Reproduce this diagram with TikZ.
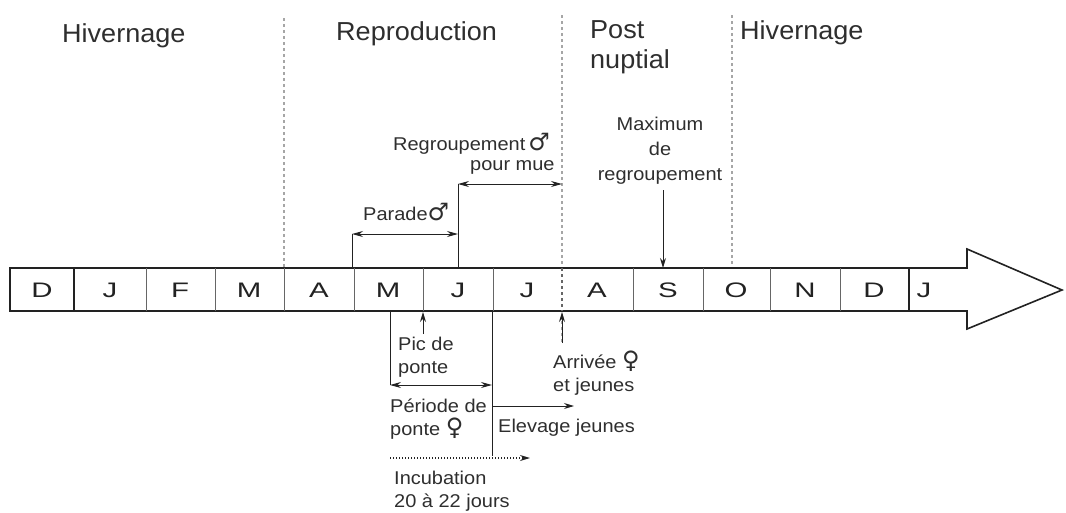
\documentclass[tikz,border=0pt]{standalone}
\usepackage{fontspec}
\setmainfont{Liberation Sans}
\newfontfamily\lblfont[FakeStretch=1.08]{Liberation Sans}
\newfontfamily\monthfont[FakeStretch=1.4]{Liberation Sans}
\newfontfamily\titlefont[FakeStretch=1.04]{Liberation Sans}
\newfontfamily\symfont{DejaVu Sans}
\usetikzlibrary{arrows.meta}
\definecolor{txt}{HTML}{2E2E2E}
\definecolor{ln}{HTML}{222222}
\tikzset{
  period/.style={font=\titlefont\fontsize{26}{30}\selectfont, text=txt, inner sep=0pt, anchor=west},
  month/.style={font=\monthfont\fontsize{21}{24}\selectfont, text=ln, inner sep=0pt},
  lbl/.style={font=\lblfont\fontsize{18.5}{23}\selectfont, text=txt, inner sep=0pt, anchor=west},
  clbl/.style={font=\lblfont\fontsize{18.5}{25}\selectfont, text=txt, inner sep=0pt, align=center},
  sepline/.style={draw=gray!70, line width=1.3pt, dash pattern=on 3pt off 3pt},
  divider/.style={draw=gray!80!black, line width=0.8pt},
  thickdiv/.style={draw=ln, line width=2pt},
  conn/.style={draw=ln, line width=1pt},
  dbl/.style={conn, {Stealth[length=11pt,width=6pt]}-{Stealth[length=11pt,width=6pt]}},
  sgl/.style={conn, -{Stealth[length=10pt,width=6pt]}},
}
\newcommand{\male}{{\symfont\bfseries\fontsize{24}{24}\selectfont ♂}}
\newcommand{\female}{{\symfont\bfseries\fontsize{24}{24}\selectfont ♀}}
\begin{document}
\begin{tikzpicture}[x=1pt,y=-1pt]
\useasboundingbox (0,0) rectangle (1066,512);
% period separators
\draw[sepline] (284,18) -- (284,268);
\draw[sepline] (562,15) -- (562,343);
\draw[sepline] (732,15) -- (732,268);
% period titles
\node[period] (h1) at (62,36) {Hivernage};
\node[period] (rep) at (336,34) {Reproduction};
\node[period] (post) at (590,30) {Post};
\node[period] (nup) at (590,62) {nuptial};
\node[period] (h2) at (740,33) {Hivernage};
% timeline arrow
\draw[draw=ln, line width=1.6pt, fill=white] (10,268) -- (967,268) -- (967,249) -- (1062,290) -- (967,329) -- (967,311) -- (10,311) -- cycle;
\foreach \x in {146,215,284,354,423,493,633,703,770,840} {\draw[divider] (\x,268) -- (\x,311);}
\draw[sepline, draw=gray!80!black] (562,268) -- (562,311);
\draw[thickdiv] (74,268) -- (74,311);
\draw[thickdiv] (909,268) -- (909,311);
\node[month] (m0) at (42,290) {D};
\node[month] (m1) at (110,290) {J};
\node[month] (m2) at (180,290) {F};
\node[month] (m3) at (249,290) {M};
\node[month] (m4) at (319,290) {A};
\node[month] (m5) at (388,290) {M};
\node[month] (m6) at (458,290) {J};
\node[month] (m7) at (527,290) {J};
\node[month] (m8) at (597,290) {A};
\node[month] (m9) at (668,290) {S};
\node[month] (m10) at (736,290) {O};
\node[month] (m11) at (805,290) {N};
\node[month] (m12) at (874,290) {D};
\node[month] (m13) at (924,290) {J};
% coordinates for brackets
\coordinate (parB) at (352,268);
\coordinate (parL) at (352,234);
\coordinate (parR) at (458,234);
\coordinate (regB) at (458,268);
\coordinate (regL) at (458,184);
\coordinate (regR) at (562,184);
\coordinate (maxT) at (663,190);
\coordinate (maxB) at (663,268);
\coordinate (picT) at (423,334);
\coordinate (picB) at (423,312);
\coordinate (arrT) at (562,343);
\coordinate (arrB) at (562,312);
\coordinate (perT) at (390,312);
\coordinate (perL) at (390,385);
\coordinate (perR) at (492,385);
\coordinate (elvT) at (492,312);
\coordinate (elvB) at (492,456);
\coordinate (elvS) at (492,406);
\coordinate (elvE) at (574,406);
\coordinate (incS) at (390,458);
\coordinate (incE) at (530,458);
% upper annotations
\draw[conn] (parB) -- (parL);
\draw[dbl] (parL) -- (parR);
\draw[conn] (regB) -- (regL);
\draw[dbl] (regL) -- (regR);
\node[lbl] (parade) at (363,212) {Parade\male};
\node[lbl] (regr) at (393,144) {Regroupement\,\male};
\node[lbl] (mue) at (470,167) {pour mue};
\node[clbl] (max) at (660,151) {Maximum\\de\\regroupement};
\draw[sgl] (maxT) -- (maxB);
% lower annotations
\draw[sgl] (picT) -- (picB);
\node[lbl] (pic) at (398,357) [align=left] {Pic de\\ponte};
\draw[conn] (perT) -- (perL);
\draw[dbl] (perL) -- (perR);
\draw[conn] (elvT) -- (elvB);
\node[lbl] (per) at (390,419) [align=left] {Période de\\ponte \female};
\draw[sgl] (elvS) -- (elvE);
\node[lbl] (elv) at (498,428) {Elevage jeunes};
\draw[conn, dotted, line width=1.3pt, -{Stealth[length=10pt,width=6pt]}] (incS) -- (incE);
\node[lbl] (inc) at (394,491) [align=left] {Incubation\\20 à 22 jours};
\draw[sgl] (arrT) -- (arrB);
\node[lbl] (arr) at (553,373) [align=left] {Arrivée \female\\et jeunes};
\end{tikzpicture}
\end{document}
